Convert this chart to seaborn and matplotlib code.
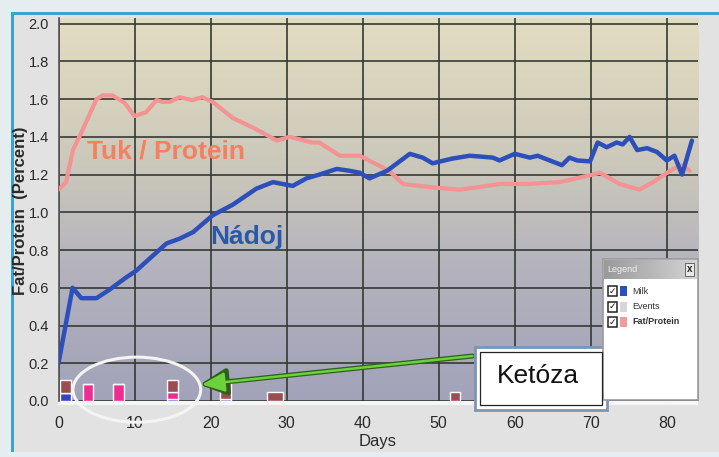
import numpy as np
import pandas as pd
import matplotlib
matplotlib.use("Agg")
import matplotlib.pyplot as plt
import seaborn as sns
from matplotlib.colors import LinearSegmentedColormap
from matplotlib.patches import Rectangle, Ellipse, FancyArrowPatch

# ---------------- data ----------------
milk_days = [0, 1.85, 3, 5, 6.7, 8.9, 10.2, 12.4, 14.2, 15.9, 17.7, 20.3, 22.9, 26, 28.2,
             29.5, 30.8, 32.6, 34.3, 36.6, 38.3, 39.6, 40.9, 43.2, 46.2, 47.9, 49.2, 51.8,
             54.1, 57.1, 58, 60, 62, 63, 66.2, 67.2, 68.2, 69.9, 70.9, 72.1, 73.4, 74.2,
             75.1, 76.1, 77.4, 78.7, 80, 81, 82, 83.3]
milk_vals = [0.2, 0.6, 0.545, 0.545, 0.59, 0.655, 0.69, 0.77, 0.835, 0.86, 0.895, 0.985,
             1.04, 1.125, 1.16, 1.15, 1.14, 1.18, 1.2, 1.23, 1.22, 1.21, 1.18, 1.22, 1.31,
             1.29, 1.26, 1.285, 1.3, 1.29, 1.275, 1.31, 1.29, 1.3, 1.25, 1.29, 1.275, 1.27,
             1.37, 1.345, 1.37, 1.36, 1.4, 1.33, 1.34, 1.32, 1.275, 1.3, 1.2, 1.38]

fp_days = [0, 1, 1.9, 3.2, 5, 5.8, 7.1, 8.7, 10, 11.5, 12.9, 13.7, 14.6, 15.9, 17.6, 18.9,
           20.3, 22.9, 25.5, 27.4, 28.7, 30.4, 33.4, 34.3, 37, 39.6, 43.5, 45.3, 49.7,
           52.8, 56.3, 58, 61.6, 65.9, 70.3, 71.2, 73.8, 76.4, 78.2, 80.8, 82, 83]
fp_vals = [1.12, 1.16, 1.33, 1.44, 1.6, 1.62, 1.62, 1.58, 1.51, 1.53, 1.595, 1.585, 1.585,
           1.61, 1.595, 1.61, 1.585, 1.5, 1.45, 1.41, 1.38, 1.4, 1.37, 1.37, 1.3, 1.3,
           1.22, 1.15, 1.13, 1.12, 1.14, 1.15, 1.15, 1.16, 1.2, 1.21, 1.15, 1.12, 1.16,
           1.23, 1.25, 1.22]

event_days = [0.9, 3.9, 7.9, 15.0, 22.0, 28.5, 52.1]
event_blue = [0.04, 0.0, 0.0, 0.01, 0.01, 0.0, 0.0]
event_pink = [0.0, 0.09, 0.09, 0.04, 0.0, 0.0, 0.0]
event_brown = [0.07, 0.0, 0.0, 0.06, 0.10, 0.05, 0.05]

x_ticks = [0, 10, 20, 30, 40, 50, 60, 70, 80]
y_ticks = [0.0, 0.2, 0.4, 0.6, 0.8, 1.0, 1.2, 1.4, 1.6, 1.8, 2.0]
legend_items = ["Milk", "Events", "Fat/Protein"]

# ---------------- figure ----------------
sns.set_style("white")
plt.rcParams["font.family"] = ["Liberation Sans Narrow", "Liberation Sans", "DejaVu Sans"]

W, H = 719, 457
fig = plt.figure(figsize=(W / 100, H / 100), dpi=100)
fig.patch.set_facecolor("#e6edf1")

def fx(px):
    return px / W

def fy(py):
    return 1 - py / H

# stone-like panel and blue frame
fig.patches.append(Rectangle((fx(12), fy(452)), fx(719 - 12), (452 - 13) / H,
                             transform=fig.transFigure, facecolor="#e2e2e2",
                             edgecolor="none", zorder=-3))
fig.patches.append(Rectangle((fx(11), fy(452)), fx(3), (452 - 12) / H,
                             transform=fig.transFigure, facecolor="#3aa3cf",
                             edgecolor="none", zorder=-2))
fig.patches.append(Rectangle((fx(11), fy(15)), fx(708), 3 / H,
                             transform=fig.transFigure, facecolor="#3aa3cf",
                             edgecolor="none", zorder=-2))
fig.patches.append(Rectangle((fx(58), fy(405)), fx(640), 4 / H,
                             transform=fig.transFigure, facecolor="#f6f6f6",
                             edgecolor="none", zorder=-2))

x0, x1 = 0, 84.1
y0, y1 = 0, 2.03
ax = fig.add_axes([fx(58.5), fy(401), fx(698 - 58.5), (401 - 18) / H])
ax.set_zorder(5)
ax.set_xlim(x0, x1)
ax.set_ylim(y0, y1)

cmap = LinearSegmentedColormap.from_list(
    "bg", [(0.0, "#a2a2ba"), (0.35, "#b4b3bd"), (0.55, "#c6c3bb"),
           (0.8, "#d8d3bd"), (1.0, "#e2dcc2")])
grad = np.linspace(0, 1, 256).reshape(-1, 1)
ax.imshow(grad, extent=[x0, x1, y0, y1], origin="lower", aspect="auto",
          cmap=cmap, zorder=0)

for xt in x_ticks:
    ax.axvline(xt, color="#343a33", lw=1.2, zorder=1)
for yt in y_ticks:
    ax.axhline(yt, color="#343a33", lw=1.2, zorder=1)

# events (stacked bars)
bw = [1.4, 1.4, 1.4, 1.4, 1.5, 2.1, 1.3]
b_blue = np.array(event_blue)
b_pink = np.array(event_pink)
b_brown = np.array(event_brown)
ax.bar(event_days, b_blue, width=bw, color="#3344c0", zorder=2)
ax.bar(event_days, b_pink, bottom=b_blue, width=bw, color="#ee2d92", zorder=2)
ax.bar(event_days, b_brown, bottom=b_blue + b_pink, width=bw, color="#9c4d52", zorder=2)

milk_df = pd.DataFrame({"Days": milk_days, "val": milk_vals})
fp_df = pd.DataFrame({"Days": fp_days, "val": fp_vals})
sns.lineplot(data=fp_df, x="Days", y="val", ax=ax, color="#f39393", lw=3,
             zorder=3, estimator=None, sort=False)
sns.lineplot(data=milk_df, x="Days", y="val", ax=ax, color="#2c4fb9", lw=3.2,
             zorder=4, estimator=None, sort=False)

for s in ax.spines.values():
    s.set_visible(False)
ax.spines["left"].set_visible(True)
ax.spines["left"].set_color("#555555")
ax.spines["left"].set_linewidth(1.2)

ax.set_xticks(x_ticks)
ax.set_yticks(y_ticks)
ax.set_xticklabels([str(t) for t in x_ticks])
ax.set_yticklabels([f"{t:.1f}" for t in y_ticks])
ax.tick_params(axis="both", which="both", direction="out", length=6, width=1,
               color="#555555", labelsize=11.5, labelcolor="#2a2a2a")
ax.tick_params(axis="x", pad=3, length=8)
ax.tick_params(axis="y", pad=1, labelsize=10.5)
ax.set_xlabel("Days", fontsize=12, color="#2a2a2a")
ax.set_ylabel("Fat/Protein  (Percent)", fontsize=12, fontweight="bold",
              color="#2a2a2a")
ax.xaxis.set_label_coords(0.499, -0.086)
ax.yaxis.set_label_coords(-0.048, 0.497)

# annotations
ax.text(3.8, 1.32, "Tuk / Protein", fontsize=19, fontweight="bold",
        color="#f4805f", family=["Liberation Sans", "DejaVu Sans"], va="center", zorder=6)
ax.text(20.0, 0.87, "Nádoj", fontsize=19, fontweight="bold",
        color="#2b59a9", family=["Liberation Sans", "DejaVu Sans"], va="center", zorder=6)

ell = Ellipse((10.3, 0.06), 16.8, 0.345, facecolor="none", edgecolor="#f4f4f4",
              lw=2.2, zorder=7, clip_on=False)
ax.add_patch(ell)

arr_dark = FancyArrowPatch((54.8, 0.24), (18.2, 0.085),
                           arrowstyle="-|>,head_length=3.2,head_width=1.6",
                           mutation_scale=5, color="#2f5f1c", lw=3.6, zorder=8, clip_on=False)
ax.add_patch(arr_dark)
arr = FancyArrowPatch((54.8, 0.24), (18.5, 0.086),
                      arrowstyle="-|>,head_length=2.8,head_width=1.2",
                      mutation_scale=5, color="#6cd23c", lw=1.8, zorder=9, clip_on=False)
ax.add_patch(arr)

# Ketóza box
fig.patches.append(Rectangle((fx(475), fy(410)), fx(132), 63 / H, transform=fig.transFigure,
                             facecolor="white", edgecolor="#7a96b4", lw=2, zorder=20))
fig.patches.append(Rectangle((fx(480), fy(405)), fx(122), 53 / H, transform=fig.transFigure,
                             facecolor="white", edgecolor="#222222", lw=0.9, zorder=21))
fig.text(fx(538), fy(376), "Ketóza", fontsize=19, color="#111111",
         family=["Liberation Sans", "DejaVu Sans"], ha="center", va="center", zorder=22)

# Legend window
fig.patches.append(Rectangle((fx(603), fy(400)), fx(95), 141 / H, transform=fig.transFigure,
                             facecolor="white", edgecolor="#9a9a9a", lw=1.2, zorder=20))
tcmap = LinearSegmentedColormap.from_list("tb", ["#9a9a9a", "#d4d4d4"])
tax = fig.add_axes([fx(604), fy(279), fx(93), 19 / H])
tax.set_zorder(21)
tax.imshow(np.linspace(0, 1, 100).reshape(1, -1), aspect="auto", cmap=tcmap)
tax.axis("off")
tax.text(0.04, 0.5, "Legend", transform=tax.transAxes, fontsize=6.5, color="#f0f0f0",
         va="center")
tax.text(0.92, 0.5, "x", transform=tax.transAxes, fontsize=7, color="#222222",
         va="center", ha="center", fontweight="bold",
         bbox=dict(boxstyle="square,pad=0.2", fc="#e8e8e8", ec="#555555", lw=0.6))
leg_colors = ["#2a4fbf", "#d6d6da", "#f39a9a"]
for i, (lab, col) in enumerate(zip(legend_items, leg_colors)):
    py = 291 + i * 15.5
    fig.patches.append(Rectangle((fx(608), fy(py + 5)), fx(9), 10 / H, transform=fig.transFigure,
                                 facecolor="white", edgecolor="#222222", lw=1.1, zorder=22))
    fig.text(fx(612.5), fy(py), "✓", fontsize=6.5, color="#111111", ha="center", va="center",
             family=["DejaVu Sans"], fontweight="bold", zorder=23)
    fig.patches.append(Rectangle((fx(620), fy(py + 5)), fx(7), 10 / H, transform=fig.transFigure,
                                 facecolor=col, edgecolor="none", zorder=22))
    fig.text(fx(632), fy(py), lab, fontsize=6.5, color="#333333",
             fontweight="bold" if lab == "Fat/Protein" else "normal",
             va="center", zorder=23)

fig.savefig("out.png", dpi=100, facecolor=fig.get_facecolor())
